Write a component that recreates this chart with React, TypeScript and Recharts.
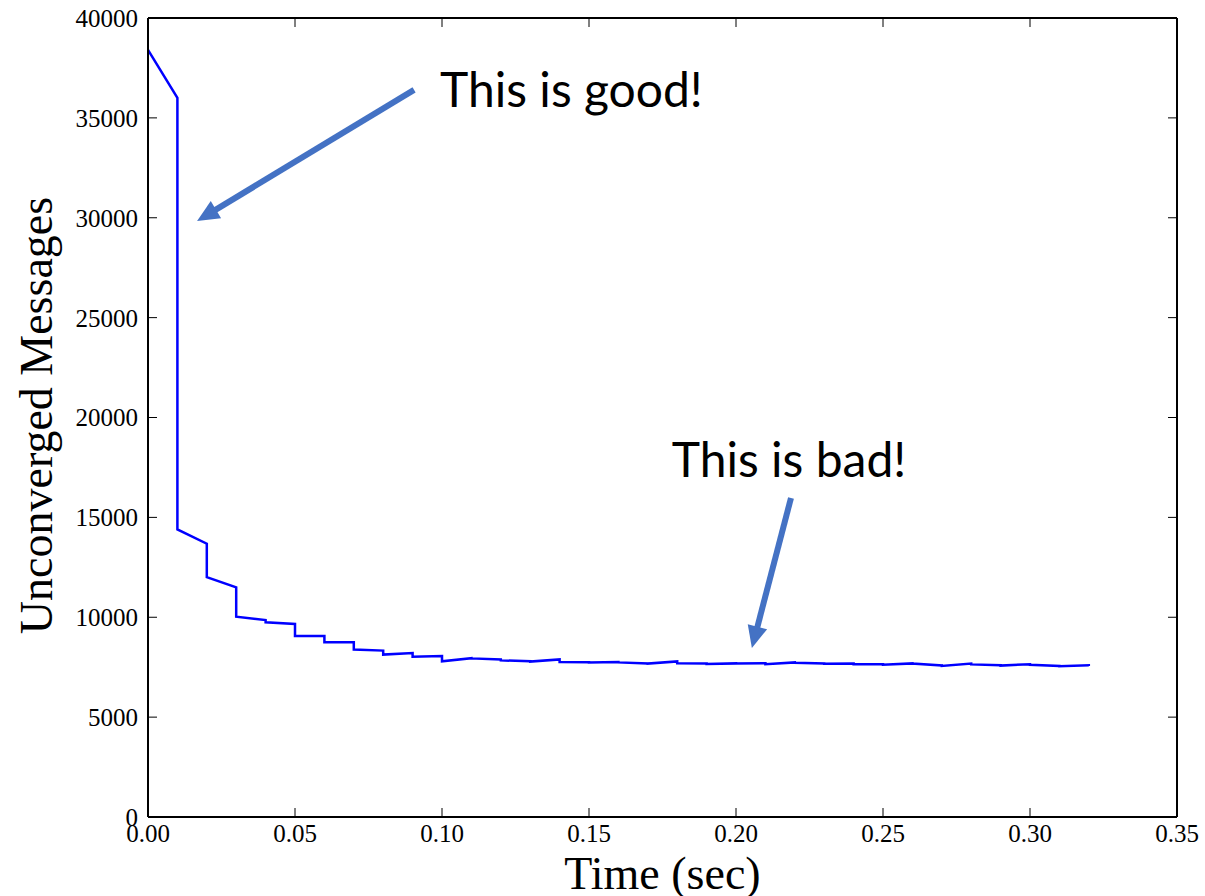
import { LineChart, Line, XAxis, YAxis, ReferenceLine } from "recharts";

const TIMES = [
  0.0, 0.01, 0.02, 0.03, 0.04, 0.05, 0.06, 0.07, 0.08, 0.09, 0.1,
  0.11, 0.12, 0.13, 0.14, 0.15, 0.16, 0.17, 0.18, 0.19, 0.2, 0.21,
  0.22, 0.23, 0.24, 0.25, 0.26, 0.27, 0.28, 0.29, 0.3, 0.31, 0.32,
];

// value reached just before the step at each time
const BEFORE_STEP = [
  38400, 36000, 13680, 11500, 9860, 9660, 9060, 8745, 8330, 8210, 8060,
  7950, 7890, 7800, 7890, 7750, 7760, 7690, 7790, 7690, 7690, 7700,
  7740, 7690, 7680, 7650, 7690, 7590, 7680, 7600, 7650, 7560, 7600,
];

// value right after the step
const AFTER_STEP = [
  38400, 14400, 12010, 10030, 9750, 9060, 8745, 8380, 8130, 8025, 7795,
  7940, 7840, 7780, 7760, 7730, 7740, 7680, 7700, 7660, 7680, 7650,
  7720, 7670, 7650, 7620, 7680, 7560, 7640, 7580, 7620, 7550, 7560,
];

const X_TICKS = [0, 0.05, 0.1, 0.15, 0.2, 0.25, 0.3, 0.35];
const Y_TICKS = [0, 5000, 10000, 15000, 20000, 25000, 30000, 35000, 40000];

const GOOD_ARROW = [{ x: 0.0905, y: 36400 }, { x: 0.0167, y: 29840 }];
const BAD_ARROW = [{ x: 0.2187, y: 15970 }, { x: 0.2054, y: 8460 }];

const data: { t: number; msgs: number }[] = [];
TIMES.forEach((t, i) => {
  data.push({ t, msgs: BEFORE_STEP[i] });
  if (AFTER_STEP[i] !== BEFORE_STEP[i]) data.push({ t, msgs: AFTER_STEP[i] });
});

const SERIF = "'Liberation Serif', 'Times New Roman', serif";
const SANS = "Lato, 'Open Sans', sans-serif";
const ARROW_BLUE = "#4472c4";

function Arrow(props: any) {
  const { x1, y1, x2, y2, text, dx, dy, anchor } = props;
  const len = Math.hypot(x2 - x1, y2 - y1);
  const ux = (x2 - x1) / len;
  const uy = (y2 - y1) / len;
  const head = 22;
  const half = 10;
  const bx = x2 - ux * head;
  const by = y2 - uy * head;
  const pts = `${x2},${y2} ${bx - uy * half},${by + ux * half} ${bx + uy * half},${by - ux * half}`;
  return (
    <g>
      <line x1={x1} y1={y1} x2={bx + ux * 2} y2={by + uy * 2} stroke={ARROW_BLUE} strokeWidth={6} />
      <polygon points={pts} fill={ARROW_BLUE} />
      <text x={x1 + dx} y={y1 + dy} textAnchor={anchor} fontFamily={SANS} fontSize={48} fill="#000">
        {text}
      </text>
    </g>
  );
}

const noTick = () => <g />;

export default function App() {
  return (
    <div style={{ position: "absolute", left: 0, top: 0, background: "#fff" }}>
      <LineChart width={1205} height={896} data={data} margin={{ top: 8, right: 8, bottom: 0, left: 10 }}>
        <XAxis
          dataKey="t"
          type="number"
          domain={[0, 0.35]}
          ticks={X_TICKS}
          allowDataOverflow
          height={79}
          tickFormatter={(v: number) => v.toFixed(2)}
          tick={{ fill: "#000", fontSize: 25, fontFamily: SERIF }}
          tickSize={-9}
          tickMargin={16}
          axisLine={{ stroke: "#000", strokeWidth: 2 }}
          tickLine={{ stroke: "#000" }}
          label={(p: any) => {
            const vb = p.viewBox;
            return (
              <text x={vb.x + vb.width / 2} y={vb.y + 72} textAnchor="middle" fontFamily={SERIF} fontSize={46} fill="#000">
                Time (sec)
              </text>
            );
          }}
        />
        <XAxis
          xAxisId="top"
          orientation="top"
          dataKey="t"
          type="number"
          domain={[0, 0.35]}
          ticks={X_TICKS}
          allowDataOverflow
          height={10}
          tick={noTick}
          tickSize={-9}
          axisLine={{ stroke: "#000", strokeWidth: 2 }}
          tickLine={{ stroke: "#000" }}
        />
        <YAxis
          type="number"
          domain={[0, 40000]}
          ticks={Y_TICKS}
          allowDataOverflow
          width={138}
          tick={{ fill: "#000", fontSize: 25, fontFamily: SERIF }}
          tickSize={-9}
          tickMargin={19}
          axisLine={{ stroke: "#000", strokeWidth: 2 }}
          tickLine={{ stroke: "#000" }}
          label={(p: any) => {
            const vb = p.viewBox;
            const cx = vb.x + 42;
            const cy = vb.y + vb.height / 2 - 2;
            return (
              <text x={cx} y={cy} transform={`rotate(-90 ${cx} ${cy})`} textAnchor="middle" fontFamily={SERIF} fontSize={46} fill="#000">
                Unconverged Messages
              </text>
            );
          }}
        />
        <YAxis
          yAxisId="right"
          orientation="right"
          type="number"
          domain={[0, 40000]}
          ticks={Y_TICKS}
          allowDataOverflow
          width={20}
          tick={noTick}
          tickSize={-9}
          axisLine={{ stroke: "#000", strokeWidth: 2 }}
          tickLine={{ stroke: "#000" }}
        />
        <Line
          type="linear"
          dataKey="msgs"
          stroke="#0000ff"
          strokeWidth={2.5}
          dot={false}
          activeDot={false}
          isAnimationActive={false}
        />
        <ReferenceLine
          segment={GOOD_ARROW}
          shape={(p: any) => <Arrow {...p} text="This is good!" dx={26} dy={17} anchor="start" />}
        />
        <ReferenceLine
          segment={BAD_ARROW}
          shape={(p: any) => <Arrow {...p} text="This is bad!" dx={-2} dy={-21} anchor="middle" />}
        />
      </LineChart>
    </div>
  );
}
